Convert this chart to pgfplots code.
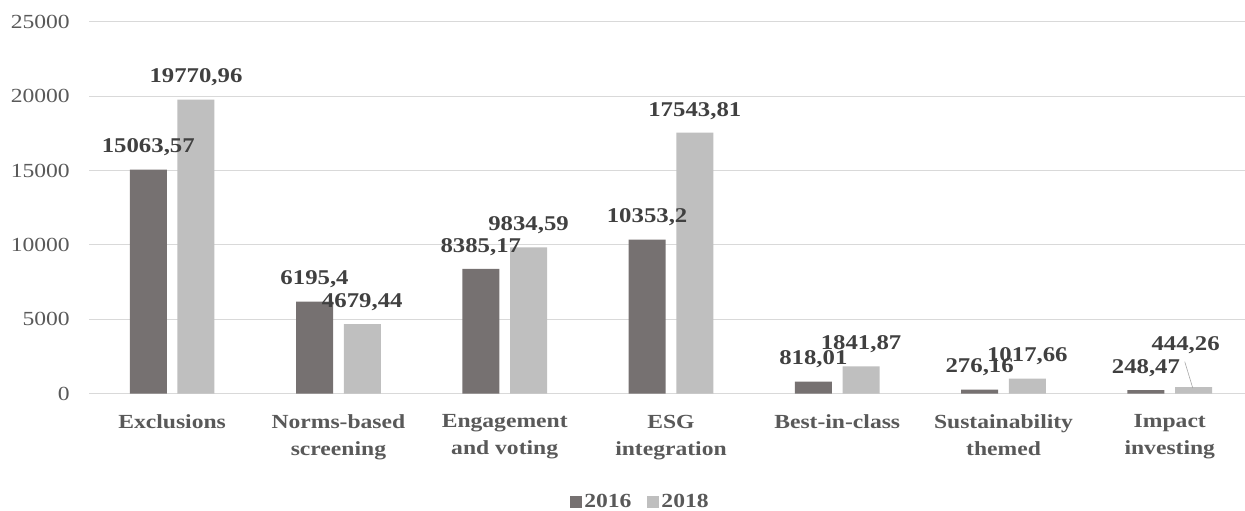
\documentclass[border=0pt]{standalone}
\usepackage{pgfplots}
\pgfplotsset{compat=1.18}
\usepackage{pgfplotstable}
\usepackage{fontspec}
\setmainfont{Liberation Serif}[FakeStretch=1.18]

\definecolor{dark}{HTML}{767171}
\definecolor{light}{HTML}{BFBFBF}
\definecolor{ticktext}{HTML}{595959}
\definecolor{lbltext}{HTML}{404040}
\definecolor{gridgray}{HTML}{D9D9D9}

% x value label dx dy (label offsets in pt)
\pgfplotstableread{
x y lbl dx dy
0 15063.57 15063,57 0 22
1 6195.4 6195,4 0 22
2 8385.17 8385,17 0 22
3 10353.2 10353,2 0 22
4 818.01 818,01 0 22
5 276.16 276,16 0 22
6 248.47 248,47 0 22
}\datasixteen

\pgfplotstableread{
x y lbl dx dy
0 19770.96 19770,96 0 22
1 4679.44 4679,44 0 22
2 9834.59 9834,59 0 22
3 17543.81 17543,81 0 22
4 1841.87 1841,87 0 22
5 1017.66 1017,66 0 22
6 444.26 444,26 -8 42
}\dataeighteen

\pgfplotsset{sq legend/.style={legend image code/.code={\fill[##1] (0pt,-6pt) rectangle (12pt,6pt);}}}

\begin{document}
\begin{tikzpicture}
\begin{axis}[
  scale only axis,
  width=1164pt, height=372pt,
  at={(89pt,117.3pt)}, anchor=south west,
  ybar=10.7pt, bar width=37pt,
  xmin=-0.5, xmax=6.5,
  ymin=0, ymax=25000,
  xtick={0,...,6},
  xticklabels={Exclusions, {Norms-based\\screening}, {Engagement\\and voting},
    {ESG\\integration}, Best-in-class, {Sustainability\\themed}, {Impact\\investing}},
  ytick={0,5000,10000,15000,20000,25000},
  yticklabels={0,5000,10000,15000,20000,25000},
  scaled y ticks=false,
  axis line style={draw=none},
  major tick length=0pt,
  ymajorgrids,
  grid style={gridgray, line width=1pt},
  yticklabel style={font=\fontsize{20}{24}\selectfont, color=ticktext, inner sep=0pt, xshift=-19pt},
  xticklabel style={font=\fontsize{20}{27}\selectfont\bfseries, color=ticktext, align=center, inner sep=0pt, yshift=-21pt},
  point meta=explicit symbolic,
  nodes near coords={\pgfplotspointmeta},
  visualization depends on={\thisrow{dx} \as \dx},
  visualization depends on={\thisrow{dy} \as \dy},
  nodes near coords style={anchor=center, inner sep=0pt, xshift=\dx pt, yshift=\dy pt,
    font=\fontsize{21}{24}\selectfont\bfseries, color=lbltext},
  legend columns=2,
  legend style={draw=none, fill=none, at={(0.4738,-0.291)}, anchor=center,
    font=\fontsize{20}{24}\selectfont\bfseries, text=ticktext,
    /tikz/every odd column/.append style={column sep=0pt},
    /tikz/every even column/.append style={column sep=14pt}},
]
\addplot[fill=dark, draw=none, sq legend] table[x=x, y=y, meta=lbl] {\datasixteen};
\addlegendentry{2016}
\addplot[fill=light, draw=none, sq legend] table[x=x, y=y, meta=lbl] {\dataeighteen};
\addlegendentry{2018}
\draw[color=gray!70, line width=0.6pt] (axis cs:6.090,2150) -- (axis cs:6.138,383);
\end{axis}
\pgfresetboundingbox
\path (0,0) rectangle (1245pt,511pt);
\end{tikzpicture}
\end{document}
